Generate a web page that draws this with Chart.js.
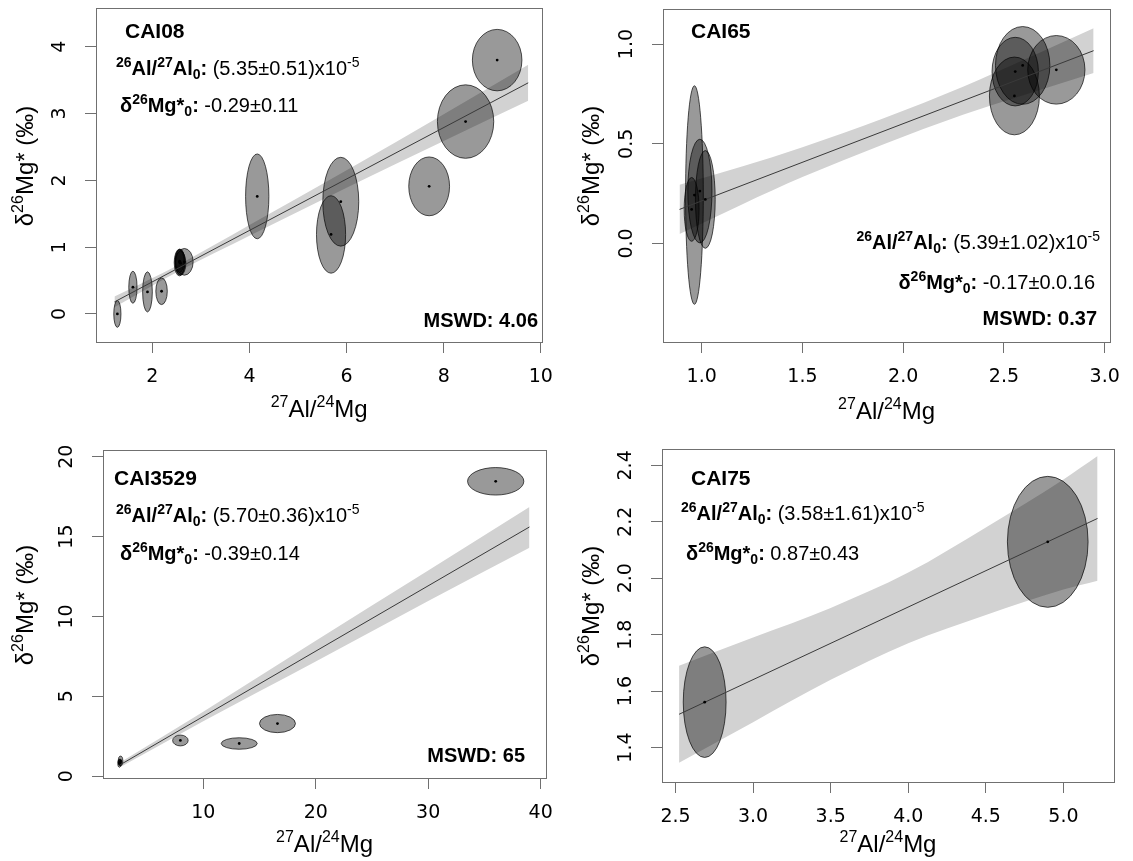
<!DOCTYPE html>
<html>
<head>
<meta charset="utf-8">
<script src="https://cdn.jsdelivr.net/npm/chart.js@4.4.1/dist/chart.umd.min.js"></script>
<style>
  body { margin: 0; background: #fff; }
  #wrap { position: relative; width: 1133px; height: 861px; }
  canvas { position: absolute; }
</style>
</head>
<body>
<div id="wrap">
  <canvas id="c1" width="566" height="430" style="left:0;top:0"></canvas>
  <canvas id="c2" width="567" height="430" style="left:566px;top:0"></canvas>
  <canvas id="c3" width="566" height="431" style="left:0;top:430px"></canvas>
  <canvas id="c4" width="567" height="431" style="left:566px;top:430px"></canvas>
</div>
<script>
// ---- CAI08 ----
const cai08X  = [1.28, 1.60, 1.90, 2.19, 2.56, 2.57, 2.58, 2.56, 2.66, 4.16, 5.68, 5.88, 7.70, 8.45, 9.10];
const cai08Y  = [0.00, 0.40, 0.33, 0.34, 0.77, 0.78, 0.76, 0.79, 0.78, 1.76, 1.19, 1.68, 1.91, 2.88, 3.80];
const cai08Sx = [0.074, 0.085, 0.10, 0.118, 0.11, 0.10, 0.11, 0.09, 0.18, 0.24, 0.30, 0.37, 0.42, 0.58, 0.51];
const cai08Sy = [0.20, 0.24, 0.30, 0.20, 0.20, 0.19, 0.18, 0.17, 0.20, 0.635, 0.58, 0.665, 0.44, 0.55, 0.46];
const cai08FitX = [1.22, 9.74];
const cai08FitY = [0.18, 3.46];
const cai08BandX  = [1.22, 2.6, 4.0, 6.0, 8.0, 9.74];
const cai08BandUp = [0.26, 0.76, 1.33, 2.15, 2.99, 3.73];
const cai08BandLo = [0.10, 0.66, 1.17, 1.89, 2.59, 3.19];
const cai08XTicks = ['2', '4', '6', '8', '10'];
const cai08YTicks = ['0', '1', '2', '3', '4'];

// ---- CAI65 ----
const cai65X  = [0.964, 0.950, 0.991, 1.018, 2.552, 2.556, 2.593, 2.760];
const cai65Y  = [0.243, 0.171, 0.263, 0.221, 0.740, 0.862, 0.893, 0.871];
const cai65Sx = [0.044, 0.037, 0.060, 0.049, 0.124, 0.115, 0.135, 0.142];
const cai65Sy = [0.548, 0.160, 0.260, 0.245, 0.195, 0.172, 0.195, 0.172];
const cai65FitX = [0.89, 2.945];
const cai65FitY = [0.171, 0.967];
const cai65BandX  = [0.89, 1.2, 1.5, 1.9, 2.3, 2.6, 2.945];
const cai65BandUp = [0.294, 0.386, 0.483, 0.627, 0.787, 0.921, 1.079];
const cai65BandLo = [0.048, 0.196, 0.333, 0.497, 0.647, 0.745, 0.855];
const cai65XTicks = ['1.0', '1.5', '2.0', '2.5', '3.0'];
const cai65YTicks = ['0.0', '0.5', '1.0'];

// ---- CAI3529 ----
const cai3529X  = [2.55, 2.65, 2.60, 7.97, 13.2, 16.6, 36.0];
const cai3529Y  = [0.80, 0.95, 0.87, 2.23, 2.04, 3.29, 18.46];
const cai3529Sx = [0.15, 0.20, 0.15, 0.69, 1.6, 1.6, 2.5];
const cai3529Sy = [0.25, 0.30, 0.20, 0.34, 0.36, 0.57, 0.86];
const cai3529FitX = [2.6, 39.0];
const cai3529FitY = [0.70, 15.6];
const cai3529BandX  = [2.6, 10, 20, 30, 39];
const cai3529BandUp = [0.85, 4.03, 8.47, 12.87, 16.85];
const cai3529BandLo = [0.55, 3.43, 7.17, 10.97, 14.30];
const cai3529XTicks = ['10', '20', '30', '40'];
const cai3529YTicks = ['0', '5', '10', '15', '20'];

// ---- CAI75 ----
const cai75X  = [2.688, 4.899];
const cai75Y  = [1.561, 2.129];
const cai75Sx = [0.138, 0.26];
const cai75Sy = [0.196, 0.232];
const cai75FitX = [2.523, 5.22];
const cai75FitY = [1.518, 2.212];
const cai75BandX  = [2.523, 3.0, 3.5, 4.0, 4.5, 5.0, 5.22];
const cai75BandUp = [1.69, 1.79, 1.895, 2.02, 2.18, 2.35, 2.433];
const cai75BandLo = [1.346, 1.49, 1.64, 1.77, 1.87, 1.96, 1.991];
const cai75XTicks = ['2.5', '3.0', '3.5', '4.0', '4.5', '5.0'];
const cai75YTicks = ['1.4', '1.6', '1.8', '2.0', '2.2', '2.4'];

// text segments: [text, style]  b = bold, r = regular, sup/sub suffixes
const alLine = v => [['26','bsup'],['Al/','b'],['27','bsup'],['Al','b'],['0','bsub'],[':','b'],[' (' + v + ')x10','r'],['-5','rsup']];
const mgLine = v => [['δ','b'],['26','bsup'],['Mg*','b'],['0','bsub'],[':','b'],[' ' + v,'r']];
const xTitle = [['27','rsup'],['Al/','r'],['24','rsup'],['Mg','r']];
const yTitle = [['δ','r'],['26','rsup'],['Mg* (‰)','r']];

const SANS = '"Liberation Sans", Arial, sans-serif';
const TICKFONT = '"DejaVu Sans", sans-serif';
const LINE = '#707070';

function drawRich(ctx, segs, x, y, align, size) {
  const font = st => {
    const bold = st[0] === 'b' ? 'bold ' : '';
    const small = st.endsWith('sup') || st.endsWith('sub');
    return bold + (small ? Math.round(size * 0.68) : size) + 'px ' + SANS;
  };
  let total = 0;
  segs.forEach(([t, st]) => { ctx.font = font(st); total += ctx.measureText(t).width; });
  let cx = align === 'right' ? x - total : align === 'center' ? x - total / 2 : x;
  const base = y + size * 0.36;
  ctx.textAlign = 'left';
  ctx.textBaseline = 'alphabetic';
  segs.forEach(([t, st]) => {
    ctx.font = font(st);
    let dy = 0;
    if (st.endsWith('sup')) dy = -size * 0.4;
    if (st.endsWith('sub')) dy = size * 0.2;
    ctx.fillText(t, cx, base + dy);
    cx += ctx.measureText(t).width;
  });
}

function panelPlugin(p) {
  return {
    id: 'panel' + p.id,
    beforeDatasetDraw(chart, args) {
      if (args.index !== 1) return;
      const ctx = chart.ctx, xs = chart.scales.x, ys = chart.scales.y, a = chart.chartArea;
      ctx.save();
      ctx.beginPath();
      ctx.rect(a.left, a.top, a.right - a.left, a.bottom - a.top);
      ctx.clip();
      p.x.forEach((vx, i) => {
        const cx = xs.getPixelForValue(vx), cy = ys.getPixelForValue(p.y[i]);
        const rx = Math.abs(xs.getPixelForValue(vx + p.sx[i]) - cx);
        const ry = Math.abs(ys.getPixelForValue(p.y[i] + p.sy[i]) - cy);
        ctx.beginPath();
        ctx.ellipse(cx, cy, rx, ry, 0, 0, Math.PI * 2);
        ctx.fillStyle = 'rgba(0,0,0,0.4)';
        ctx.fill();
        ctx.lineWidth = 0.9;
        ctx.strokeStyle = 'rgba(0,0,0,0.75)';
        ctx.stroke();
      });
      ctx.restore();
    },
    afterDraw(chart) {
      const ctx = chart.ctx, a = chart.chartArea, ys = chart.scales.y;
      ctx.save();
      ctx.strokeStyle = LINE;
      ctx.lineWidth = 1;
      ctx.strokeRect(Math.round(a.left) + 0.5, Math.round(a.top) + 0.5,
                     Math.round(a.right - a.left), Math.round(a.bottom - a.top));
      // rotated y tick labels, placed by the y scale
      ctx.fillStyle = '#000';
      ctx.font = '19px ' + TICKFONT;
      ctx.textAlign = 'center';
      ctx.textBaseline = 'middle';
      ys.ticks.forEach((t, i) => {
        const py = ys.getPixelForValue(t.value);
        ctx.save();
        ctx.translate(a.left - 36, py);
        ctx.rotate(-Math.PI / 2);
        ctx.fillText(p.yTicks[i], 0, 0);
        ctx.restore();
      });
      // axis titles
      drawRich(ctx, xTitle, (a.left + a.right) / 2, p.xTitleY, 'center', 24);
      ctx.save();
      ctx.translate(24, p.yTitleY);
      ctx.rotate(-Math.PI / 2);
      drawRich(ctx, yTitle, 0, 0, 'center', 24);
      ctx.restore();
      // annotations
      p.notes.forEach(n => drawRich(ctx, n.segs, n.x, n.y, n.align, n.size));
      ctx.restore();
    }
  };
}

function makePanel(p) {
  const canvas = document.getElementById(p.id);
  const W = canvas.width, H = canvas.height;
  const pts = (xa, ya) => xa.map((v, i) => ({ x: v, y: ya[i] }));
  new Chart(canvas, {
    type: 'scatter',
    data: {
      datasets: [
        { data: pts(p.x, p.y), pointRadius: 1.4, backgroundColor: '#000', borderWidth: 0 },
        { type: 'line', data: pts(p.fitX, p.fitY), borderColor: '#3a3a3a', borderWidth: 1,
          pointRadius: 0, fill: false },
        { type: 'line', data: pts(p.bandX, p.bandUp), borderWidth: 0, pointRadius: 0,
          fill: '+1', backgroundColor: '#d2d2d2', cubicInterpolationMode: 'monotone' },
        { type: 'line', data: pts(p.bandX, p.bandLo), borderWidth: 0, pointRadius: 0,
          fill: false, cubicInterpolationMode: 'monotone' }
      ]
    },
    options: {
      responsive: false,
      animation: false,
      events: [],
      layout: { padding: { left: 0, top: p.box.t, right: W - p.box.r, bottom: 0 } },
      plugins: { legend: { display: false }, tooltip: { enabled: false } },
      scales: {
        x: {
          type: 'linear', bounds: 'data', min: p.xRange[0], max: p.xRange[1],
          afterBuildTicks: s => { s.ticks = p.xTicks.map(l => ({ value: Number(l) })); },
          afterFit: s => { s.height = H - p.box.b; },
          ticks: { font: { family: TICKFONT, size: 19 }, color: '#000', padding: 13,
                   autoSkip: false, maxRotation: 0, callback: (v, i) => p.xTicks[i] },
          grid: { drawOnChartArea: false, drawTicks: true, tickLength: 11, color: LINE },
          border: { display: false }
        },
        y: {
          type: 'linear', bounds: 'data', min: p.yRange[0], max: p.yRange[1],
          afterBuildTicks: s => { s.ticks = p.yTicks.map(l => ({ value: Number(l) })); },
          afterFit: s => { s.width = p.box.l; },
          ticks: { display: false },
          grid: { drawOnChartArea: false, drawTicks: true, tickLength: 11, color: LINE },
          border: { display: false }
        }
      }
    },
    plugins: [panelPlugin(p)]
  });
}

makePanel({
  id: 'c1', box: { l: 96, r: 548, t: 8, b: 342 }, xRange: [0.84, 10.03], yRange: [-0.42, 4.58],
  x: cai08X, y: cai08Y, sx: cai08Sx, sy: cai08Sy, fitX: cai08FitX, fitY: cai08FitY,
  bandX: cai08BandX, bandUp: cai08BandUp, bandLo: cai08BandLo,
  xTicks: cai08XTicks, yTicks: cai08YTicks, xTitleY: 408, yTitleY: 166,
  notes: [
    { segs: [['CAI08', 'b']], x: 125, y: 30, align: 'left', size: 21 },
    { segs: alLine('5.35±0.51'), x: 116, y: 68, align: 'left', size: 20 },
    { segs: mgLine('-0.29±0.11'), x: 120, y: 105, align: 'left', size: 20 },
    { segs: [['MSWD: 4.06', 'b']], x: 538, y: 320, align: 'right', size: 20 }
  ]
});

makePanel({
  id: 'c2', box: { l: 97, r: 550, t: 9, b: 342 }, xRange: [0.808, 3.027], yRange: [-0.494, 1.176],
  x: cai65X, y: cai65Y, sx: cai65Sx, sy: cai65Sy, fitX: cai65FitX, fitY: cai65FitY,
  bandX: cai65BandX, bandUp: cai65BandUp, bandLo: cai65BandLo,
  xTicks: cai65XTicks, yTicks: cai65YTicks, xTitleY: 410, yTitleY: 166,
  notes: [
    { segs: [['CAI65', 'b']], x: 125, y: 30, align: 'left', size: 21 },
    { segs: alLine('5.39±1.02'), x: 534, y: 242, align: 'right', size: 20 },
    { segs: mgLine('-0.17±0.0.16'), x: 529, y: 282, align: 'right', size: 20 },
    { segs: [['MSWD: 0.37', 'b']], x: 531, y: 318, align: 'right', size: 20 }
  ]
});

makePanel({
  id: 'c3', box: { l: 103, r: 548, t: 20, b: 348 }, xRange: [1.09, 40.48], yRange: [-0.12, 20.42],
  x: cai3529X, y: cai3529Y, sx: cai3529Sx, sy: cai3529Sy, fitX: cai3529FitX, fitY: cai3529FitY,
  bandX: cai3529BandX, bandUp: cai3529BandUp, bandLo: cai3529BandLo,
  xTicks: cai3529XTicks, yTicks: cai3529YTicks, xTitleY: 413, yTitleY: 175,
  notes: [
    { segs: [['CAI3529', 'b']], x: 114, y: 47, align: 'left', size: 21 },
    { segs: alLine('5.70±0.36'), x: 116, y: 85, align: 'left', size: 20 },
    { segs: mgLine('-0.39±0.14'), x: 120, y: 123, align: 'left', size: 20 },
    { segs: [['MSWD: 65', 'b']], x: 525, y: 325, align: 'right', size: 20 }
  ]
});

makePanel({
  id: 'c4', box: { l: 96, r: 548, t: 19, b: 352 }, xRange: [2.413, 5.326], yRange: [1.278, 2.458],
  x: cai75X, y: cai75Y, sx: cai75Sx, sy: cai75Sy, fitX: cai75FitX, fitY: cai75FitY,
  bandX: cai75BandX, bandUp: cai75BandUp, bandLo: cai75BandLo,
  xTicks: cai75XTicks, yTicks: cai75YTicks, xTitleY: 413, yTitleY: 176,
  notes: [
    { segs: [['CAI75', 'b']], x: 125, y: 47, align: 'left', size: 21 },
    { segs: alLine('3.58±1.61'), x: 115, y: 83, align: 'left', size: 20 },
    { segs: mgLine('0.87±0.43'), x: 120, y: 123, align: 'left', size: 20 }
  ]
});
</script>
</body>
</html>
